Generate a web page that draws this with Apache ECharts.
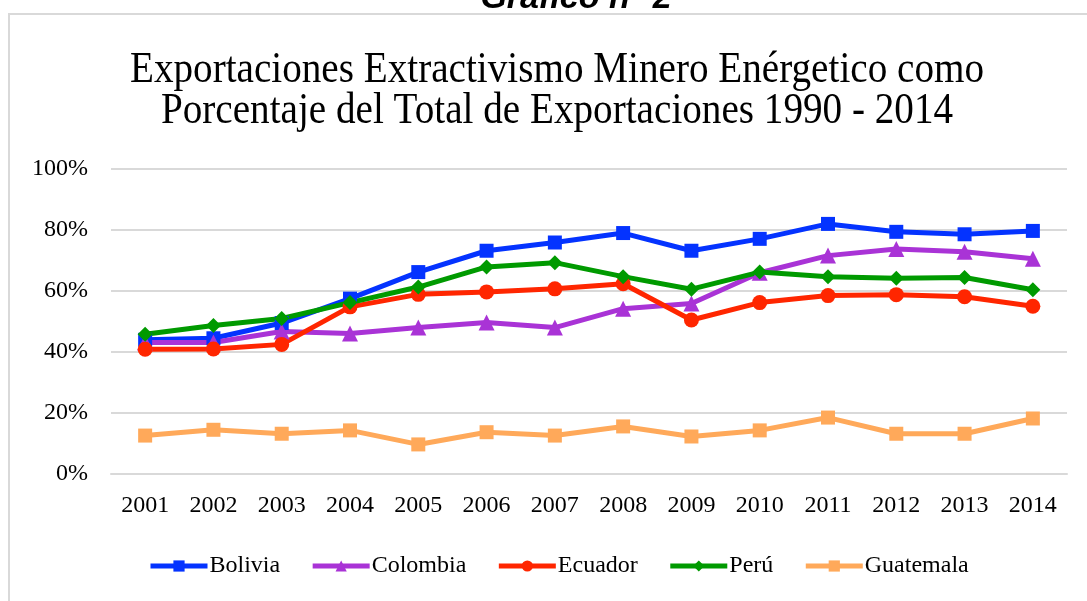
<!DOCTYPE html>
<html>
<head>
<meta charset="utf-8">
<script src="https://cdn.jsdelivr.net/npm/echarts@6/dist/echarts.min.js"></script>
<style>
html,body{margin:0;padding:0;background:#fff;}
#chart{width:1087px;height:601px;}
</style>
</head>
<body>
<div id="chart"></div>
<script>
const categories = ['2001','2002','2003','2004','2005','2006','2007','2008','2009','2010','2011','2012','2013','2014'];
const bolivia   = [44.0, 44.5, 49.5, 57.5, 66.2, 73.2, 75.9, 79.0, 73.2, 77.1, 82.0, 79.4, 78.6, 79.7];
const colombia  = [43.1, 43.1, 46.7, 46.1, 48.0, 49.7, 48.0, 54.2, 55.9, 66.0, 71.6, 73.8, 72.9, 70.6];
const ecuador   = [40.9, 41.0, 42.5, 54.8, 58.9, 59.7, 60.7, 62.4, 50.5, 56.2, 58.5, 58.8, 58.1, 55.0];
const peru      = [45.8, 48.7, 51.0, 56.2, 61.3, 67.9, 69.3, 64.7, 60.6, 66.2, 64.7, 64.2, 64.4, 60.4];
const guatemala = [12.6, 14.5, 13.2, 14.3, 9.7, 13.7, 12.6, 15.6, 12.3, 14.3, 18.5, 13.2, 13.2, 18.2];
const yTicks = [0, 20, 40, 60, 80, 100];

const serif = 'Liberation Serif';
const chart = echarts.init(document.getElementById('chart'));

function mk(name, data, color, symbol, size) {
  return {
    name: name, type: 'line', data: data,
    symbol: symbol, symbolSize: size,
    lineStyle: {width: 5, color: color},
    itemStyle: {color: color},
    emphasis: {disabled: true}
  };
}

chart.setOption({
  animation: false,
  graphic: [
    {type: 'rect', shape: {x: 9, y: 14, width: 1200, height: 700},
     style: {fill: 'none', stroke: '#d9d9d9', lineWidth: 2}, silent: true, z: -1},
    {type: 'text', x: 576, y: 16,
     style: {text: 'Gráfico n° 2', font: 'bold italic 34px "Liberation Sans"', fill: '#000',
             align: 'center', verticalAlign: 'bottom'}},
    {type: 'text', x: 557, y: 50, scaleX: 0.89, originX: 0,
     style: {text: 'Exportaciones Extractivismo Minero Enérgetico como\nPorcentaje del Total de Exportaciones 1990 - 2014',
             font: '44px "Liberation Serif"', lineHeight: 41, fill: '#000',
             align: 'center', verticalAlign: 'top'}}
  ],
  grid: {left: 111, right: 20, top: 169, bottom: 127, containLabel: false},
  legend: {
    left: 143, top: 549,
    itemWidth: 57, itemHeight: 14, itemGap: 30,
    lineStyle: {width: 5},
    textStyle: {fontFamily: serif, fontSize: 24, color: '#000', padding: [0, 0, 0, -3]},
    data: ['Bolivia','Colombia','Ecuador','Perú','Guatemala']
  },
  xAxis: {
    type: 'category', data: categories, boundaryGap: true,
    axisLine: {show: true, lineStyle: {color: '#d9d9d9', width: 2}},
    axisTick: {show: false},
    axisLabel: {fontFamily: serif, fontSize: 24, color: '#000', margin: 20}
  },
  yAxis: {
    type: 'value', min: yTicks[0], max: yTicks[yTicks.length-1], interval: 20,
    axisLine: {show: false}, axisTick: {show: false},
    splitLine: {lineStyle: {color: '#d9d9d9', width: 2}},
    axisLabel: {fontFamily: serif, fontSize: 24, color: '#000', margin: 23, formatter: '{value}%'}
  },
  series: [
    mk('Bolivia', bolivia, '#0433ff', 'rect', 14),
    mk('Colombia', colombia, '#a933d6', 'triangle', 16),
    mk('Ecuador', ecuador, '#ff2600', 'circle', 15),
    mk('Perú', peru, '#009a00', 'diamond', 15),
    mk('Guatemala', guatemala, '#ffa95a', 'rect', 14)
  ]
});
</script>
</body>
</html>
